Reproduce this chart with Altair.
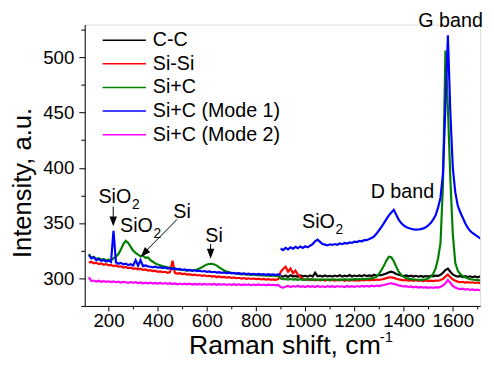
import altair as alt
import pandas as pd

# ---------------- data ----------------
X_GRID = list(range(120, 1721, 10))          # Raman shift sampling, cm^-1

NAMES = ["C-C", "Si-Si", "Si+C", "Si+C (Mode 1)", "Si+C (Mode 2)"]
COLORS = ["#000000", "#ff0000", "#008000", "#0000ff", "#ff00ff"]

# C-C : 900 .. 1720
CC = [302.0, 301.5,
      302.5, 301.2, 302.8, 301.6, 302.2, 301.4, 302.6, 301.8, 302.3, 301.5,
      302.7, 301.6, 305.0, 301.8, 302.4, 301.5, 302.6, 301.7, 302.3, 301.6,
      302.5, 301.7, 302.8, 301.6, 302.4, 301.8, 303.0, 301.7, 302.5, 301.9,
      302.6, 301.8, 302.9, 302.0, 302.7, 302.1, 303.2, 302.4, 303.0, 302.8,
      303.6, 304.4, 305.5, 306.0, 305.2, 304.0, 303.2, 302.5, 302.1, 302.6,
      301.8, 302.4, 301.6, 302.3, 301.5, 302.2, 301.4, 302.1, 301.6, 302.3,
      301.8, 302.5, 302.2, 303.2, 305.0, 307.5, 308.8, 306.0, 303.5, 302.4,
      301.5, 302.1, 301.2, 301.9, 301.1, 301.8, 301.0, 301.7, 300.9, 301.6,
      301.2]

# Si-Si : 120 .. 1720
SISI = [314.0, 315.0, 313.5, 314.2, 312.8, 313.5, 312.3, 312.9, 311.8, 312.2,
        311.0, 311.6, 310.5, 310.9, 309.8, 310.3, 309.2, 309.7, 308.6, 309.0,
        308.2, 308.7, 307.6, 308.0, 307.0, 307.4, 306.5, 306.9, 305.9, 306.3,
        305.5, 305.9, 305.0, 305.6, 316.0, 304.8, 304.3, 304.7, 303.8, 304.2,
        303.4, 303.8, 303.0, 303.4, 302.6, 303.0, 302.2, 302.7, 301.9, 302.3,
        301.6, 302.0, 301.2, 301.7, 300.9, 301.3, 300.6, 301.0, 300.3, 300.8,
        300.1, 300.5, 299.8, 300.3, 299.6, 300.0, 299.4, 299.9, 299.2, 299.7,
        299.0, 299.5, 298.8, 299.3, 298.7, 299.1, 298.6, 299.2, 306.0, 308.5,
        310.5, 306.0, 308.8, 304.5, 307.0, 303.2, 301.5, 299.5, 298.6, 299.2,
        298.4, 299.0, 298.2, 298.9, 298.1, 298.7, 298.0, 298.8, 298.2, 298.6,
        297.9, 298.6, 298.1, 298.7, 297.8, 298.5, 298.0, 298.6, 297.9, 298.4,
        298.0, 298.6, 298.1, 298.7, 298.2, 298.8, 298.3, 298.9, 298.5, 299.0,
        299.5, 300.2, 300.8, 301.0, 300.4, 299.6, 299.0, 298.6, 298.2, 298.5,
        297.9, 298.4, 297.7, 298.2, 297.6, 298.1, 297.5, 298.0, 297.4, 297.9,
        297.5, 298.0, 297.8, 298.5, 299.5, 301.5, 303.5, 301.0, 299.0, 297.8,
        297.0, 296.5, 296.9, 296.2, 296.6, 296.0, 296.4, 295.8, 296.2, 295.7,
        296.0]

# Si+C : 120 .. 1720
SIC = [322.0, 318.5, 319.5, 317.5, 318.2, 316.8, 317.5, 316.2, 317.0, 316.5,
       318.0, 319.5, 322.0, 326.0, 331.0, 334.0, 332.0, 328.5, 325.0, 323.0,
       321.5, 320.0, 320.5, 318.5, 319.0, 316.5, 315.0, 313.5, 312.5, 311.8,
       311.0, 310.5, 310.0, 309.5, 309.0, 308.6, 308.3, 307.8, 307.5, 307.3,
       307.0, 307.3, 307.0, 307.5, 308.0, 309.0, 310.0, 311.5, 312.5, 313.0,
       313.2, 312.5, 311.5, 310.0, 308.5, 307.0, 306.2, 305.5, 305.0, 304.6,
       304.3, 304.0, 303.6, 303.9, 303.3, 303.6, 303.0, 303.4, 302.8, 303.1,
       302.6, 302.9, 302.4, 302.7, 302.2, 302.5, 302.0, 302.3, 299.8, 299.2,
       299.5, 298.9, 299.4, 298.8, 299.3, 298.7, 299.2, 298.6, 299.1, 298.7,
       299.2, 298.6, 299.1, 298.5, 299.0, 298.6, 299.1, 298.5, 299.0, 298.6,
       299.1, 298.5, 299.0, 298.6, 299.2, 298.7, 299.1, 298.8, 299.3, 299.0,
       299.4, 299.1, 299.6, 299.3, 299.8, 300.0, 300.5, 301.5, 304.0, 307.5,
       311.5, 316.0, 319.5, 319.0, 315.5, 310.5, 306.0, 303.0, 301.3, 300.3,
       299.6, 299.3, 299.0, 298.8, 298.7, 298.6, 298.8, 299.2, 299.8, 301.5,
       304.0, 309.0, 318.0, 332.0, 385.0, 506.0, 455.0, 390.0, 340.0, 314.0,
       307.0, 304.0, 302.0, 301.0, 300.0, 299.3, 298.9, 298.6, 298.4, 298.2,
       298.3]

# Si+C (Mode 1), first window : 120 .. 900
MODE1_A = [321.0, 318.0, 319.0, 316.5, 317.5, 315.8, 316.6, 315.2, 316.0, 314.8,
           343.0, 314.5, 313.2, 314.0, 312.6, 313.3, 312.0, 312.8, 311.6, 316.5,
           311.4, 316.5, 311.0, 311.6, 310.8, 310.5, 310.0, 310.6, 309.6, 310.1,
           309.2, 309.8, 308.8, 309.3, 308.4, 308.9, 308.0, 308.5, 307.6, 308.0,
           307.2, 307.7, 306.8, 307.3, 306.5, 306.9, 306.2, 306.6, 305.8, 306.3,
           305.5, 305.9, 305.2, 305.6, 304.9, 305.3, 304.7, 305.1, 304.5, 304.9,
           304.3, 304.7, 304.0, 304.5, 303.8, 304.3, 303.6, 304.1, 303.5, 304.0,
           303.4, 303.9, 303.2, 303.8, 303.1, 303.6, 303.0, 303.5, 303.2]

# Si+C (Mode 1), second window : 900 .. 1720
MODE1_B = [327.0, 325.5,
           327.5, 326.2, 328.0, 326.8, 328.5, 327.2, 328.8, 327.5, 329.0, 328.0,
           329.5, 331.0, 333.5, 335.0, 333.0, 331.0, 330.5, 329.8, 330.8, 330.2,
           331.0, 330.4, 331.5, 330.9, 332.0, 331.5, 332.5, 332.0, 333.2, 332.8,
           333.8, 333.5, 334.5, 334.5, 335.5, 336.5, 338.0, 340.5, 343.5, 346.5,
           350.0, 353.5, 357.0, 359.5, 362.0, 357.5, 353.0, 350.0, 348.0, 346.5,
           345.5, 344.8, 344.3, 344.0, 344.2, 344.5, 345.2, 346.2, 347.8, 350.0,
           353.0, 357.0, 364.0, 373.0, 395.0, 455.0, 520.0, 450.0, 400.0, 378.0,
           366.0, 360.0, 355.0, 350.0, 346.0, 343.0, 341.0, 339.5, 338.0, 336.5,
           334.5]

# Si+C (Mode 2) : 120 .. 1720
MODE2 = [301.0, 297.5, 298.0, 297.0, 297.8, 296.9, 297.5, 296.8, 297.3, 296.6,
         297.2, 296.5, 297.0, 296.2, 296.9, 296.4, 295.8, 296.6, 296.0, 296.5,
         295.7, 296.3, 295.5, 296.1, 295.4, 296.0, 295.2, 295.9, 295.3, 295.8,
         295.1, 295.7, 295.0, 295.6, 294.8, 295.4, 294.6, 295.3, 294.7, 295.2,
         294.5, 295.1, 294.4, 295.0, 294.3, 294.9, 294.4, 295.0, 294.2, 294.8,
         294.3, 294.9, 294.1, 294.7, 294.2, 294.8, 294.0, 294.6, 294.1, 294.7,
         294.0, 294.6, 293.9, 294.5, 294.0, 294.6, 293.8, 294.4, 293.9, 294.5,
         293.8, 294.4, 293.7, 294.3, 293.8, 294.2, 293.6, 294.1, 292.2, 291.5,
         292.3, 293.2, 292.1, 293.0, 292.4, 293.3, 292.2, 292.9, 292.0, 293.1,
         292.3, 292.9, 292.1, 293.2, 292.2, 292.8, 292.0, 293.0, 292.3, 292.9,
         292.1, 293.0, 292.4, 292.8, 292.0, 293.1, 292.3, 292.9, 292.2, 293.0,
         292.4, 293.1, 292.5, 293.2, 292.6, 293.4, 292.8, 293.5, 293.0, 293.6,
         294.0, 294.6, 295.2, 295.5, 295.0, 294.4, 293.6, 293.2, 292.6, 292.9,
         292.2, 292.7, 291.9, 292.4, 291.6, 292.2, 291.5, 292.0, 291.4, 291.9,
         291.3, 292.0, 291.6, 292.4, 293.5, 295.5, 298.5, 296.0, 293.2, 291.6,
         290.8, 290.2, 290.6, 289.8, 290.3, 289.5, 290.0, 289.3, 289.8, 289.2,
         289.5]

X_MAJOR = [200, 400, 600, 800, 1000, 1200, 1400, 1600]
X_MINOR = [100, 300, 500, 700, 900, 1100, 1300, 1500, 1700]
Y_MAJOR = [300, 350, 400, 450, 500]
Y_MINOR = [275, 325, 375, 425, 475, 525]

# ---------------- layout / style ----------------
FONT = "Liberation Sans"
W, H = 402, 286
xscale = alt.Scale(domain=[103, 1711], nice=False, zero=False)
yscale = alt.Scale(domain=[275, 529.5], nice=False, zero=False)
cscale = alt.Scale(domain=NAMES, range=COLORS)

i900 = X_GRID.index(900)
assert len(SISI) == len(SIC) == len(MODE2) == len(X_GRID)
assert len(MODE1_A) == i900 + 1 and len(MODE1_B) == len(CC) == len(X_GRID) - i900


def frame(xv, yv, name, seg=0):
    return pd.DataFrame({"x": xv, "y": yv, "series": name, "seg": seg})


df_cc = frame(X_GRID[i900:], CC, NAMES[0])
df_sisi = frame(X_GRID, SISI, NAMES[1])
df_sic = frame(X_GRID, SIC, NAMES[2])
df_m1 = pd.concat([frame(X_GRID[:i900 + 1], MODE1_A, NAMES[3], 0),
                   frame(X_GRID[i900:], MODE1_B, NAMES[3], 1)])
df_m2 = frame(X_GRID, MODE2, NAMES[4])

x_axis = alt.Axis(values=X_MAJOR, tickSize=5, labelFontSize=19, labelFont=FONT,
                  labelColor="black", domainColor="black", tickColor="black",
                  grid=False, title=None, labelPadding=1, format="d",
                  orient="bottom", labelFlush=False, labelOverlap=False)
y_axis = alt.Axis(values=Y_MAJOR, tickSize=6, labelFontSize=19, labelFont=FONT,
                  labelColor="black", domainColor="black", tickColor="black",
                  grid=False, title=None, labelPadding=5, format="d",
                  orient="left")
x_minor = alt.Axis(values=X_MINOR, tickSize=3, labels=False, domain=False,
                   tickColor="black", grid=False, title=None, orient="bottom")
y_minor = alt.Axis(values=Y_MINOR, tickSize=4, labels=False, domain=False,
                   tickColor="black", grid=False, title=None, orient="left")


def line_layer(df, xa=None, ya=None):
    return alt.Chart(df).mark_line(clip=True, strokeWidth=2.2).encode(
        x=alt.X("x:Q", scale=xscale, axis=xa),
        y=alt.Y("y:Q", scale=yscale, axis=ya),
        color=alt.Color("series:N", scale=cscale, legend=None),
        detail="seg:N",
    )


layers = [
    line_layer(df_cc, x_axis, y_axis),
    line_layer(df_sisi),
    line_layer(df_sic),
    line_layer(df_m1),
    line_layer(df_m2),
]

ticks_df = pd.DataFrame({"x": X_MINOR[:6], "y": Y_MINOR})
layers.append(
    alt.Chart(ticks_df).mark_point(opacity=0).encode(
        x=alt.X("x:Q", scale=xscale, axis=x_minor),
        y=alt.Y("y:Q", scale=yscale, axis=y_minor),
    )
)

# legend (drawn in data coordinates, top-left of the plot)
leg_df = pd.DataFrame({
    "series": NAMES,
    "ly": [515.5, 494.1, 472.7, 451.3, 430.0],
    "lx0": 176, "lx1": 352, "ltx": 380,
})
layers.append(
    alt.Chart(leg_df).mark_rule(strokeWidth=1.5).encode(
        x=alt.X("lx0:Q", scale=xscale, axis=None), x2="lx1:Q",
        y=alt.Y("ly:Q", scale=yscale, axis=None),
        color=alt.Color("series:N", scale=cscale, legend=None),
    )
)
layers.append(
    alt.Chart(leg_df).mark_text(align="left", baseline="middle", font=FONT,
                                fontSize=20, color="black").encode(
        x=alt.X("ltx:Q", scale=xscale, axis=None),
        y=alt.Y("ly:Q", scale=yscale, axis=None),
        text="series:N",
    )
)

# annotations
ann_left = pd.DataFrame({"t": ["SiO", "SiO", "SiO"],
                         "ax": [159, 247, 987], "ay": [373.9, 347.1, 350.7]})
ann_sub = pd.DataFrame({"t": ["2", "2", "2"],
                        "ax": [295, 383, 1123], "ay": [366.2, 340.0, 343.6]})
ann_center = pd.DataFrame({"t": ["Si", "Si", "D band", "G band"],
                           "ax": [499, 629, 1395, 1591],
                           "ay": [359.6, 338.2, 378.3, 532.4]})
for df, al, fs in [(ann_left, "left", 20), (ann_sub, "left", 14), (ann_center, "center", 20)]:
    layers.append(
        alt.Chart(df).mark_text(align=al, baseline="middle", font=FONT,
                                fontSize=fs, color="black").encode(
            x=alt.X("ax:Q", scale=xscale, axis=None),
            y=alt.Y("ay:Q", scale=yscale, axis=None),
            text="t:N",
        )
    )

arrows = pd.DataFrame({"x1": [219, 479, 615], "y1": [365.0, 353.4, 331.1],
                       "x2": [219, 342, 615], "y2": [350.0, 322.5, 320.5]})
heads = pd.DataFrame({"hx": [219, 331, 615], "hy": [347.1, 319.5, 317.8],
                      "ang": [0, 44, 0]})
layers.append(
    alt.Chart(arrows).mark_rule(color="black", strokeWidth=1).encode(
        x=alt.X("x1:Q", scale=xscale, axis=None), x2="x2:Q",
        y=alt.Y("y1:Q", scale=yscale, axis=None), y2="y2:Q",
    )
)
layers.append(
    alt.Chart(heads).mark_point(shape="M0,0L-0.38,-1L0.38,-1Z", filled=True,
                                size=400, color="black", opacity=1).encode(
        x=alt.X("hx:Q", scale=xscale, axis=None),
        y=alt.Y("hy:Q", scale=yscale, axis=None),
        angle=alt.Angle("ang:Q", scale=None),
    )
)

# axis titles (with superscript)
tdf = pd.DataFrame({"t": ["Raman shift, cm"]})
layers.append(alt.Chart(tdf).mark_text(align="left", baseline="alphabetic", font=FONT,
                                       fontSize=27, color="black").encode(
    text="t:N", x=alt.value(106), y=alt.value(335)))
sdf = pd.DataFrame({"t": ["-1"]})
layers.append(alt.Chart(sdf).mark_text(align="left", baseline="alphabetic", font=FONT,
                                       fontSize=15, color="black").encode(
    text="t:N", x=alt.value(300), y=alt.value(323)))
ydf = pd.DataFrame({"t": ["Intensity, a.u."]})
layers.append(alt.Chart(ydf).mark_text(align="center", baseline="middle", font=FONT,
                                       fontSize=26, color="black", angle=270).encode(
    text="t:N", x=alt.value(-63), y=alt.value(161)))

chart = alt.layer(*layers).resolve_axis(x="independent", y="independent").properties(
    width=W, height=H,
    autosize=alt.AutoSizeParams(type="none"),
    padding={"left": 78, "top": 14, "right": 6, "bottom": 52},
).configure_view(stroke=None).configure(background="white")

chart.save("out.html", embed_options={"renderer": "svg", "actions": False})
